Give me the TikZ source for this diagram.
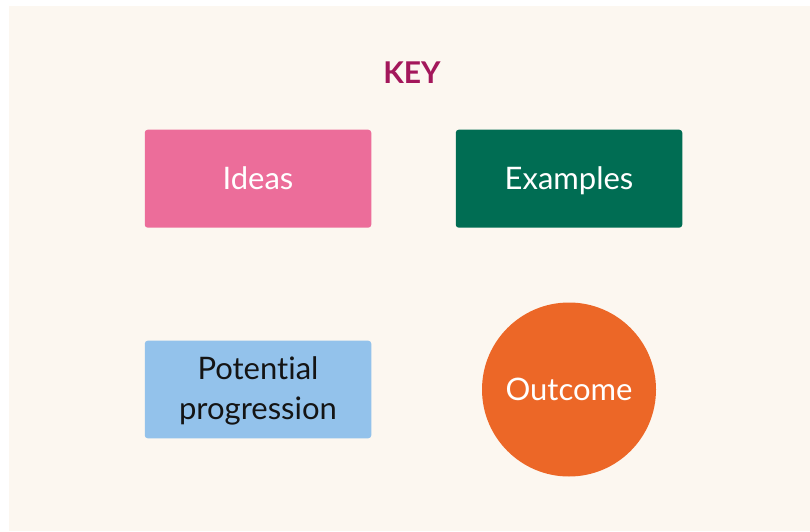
\documentclass[tikz,border=0pt]{standalone}
\usepackage{fontspec}
\setmainfont[Ligatures=NoCommon]{Lato}
\definecolor{bgc}{HTML}{FCF7F0}
\definecolor{pinkc}{HTML}{EC6D9A}
\definecolor{greenc}{HTML}{006D53}
\definecolor{bluec}{HTML}{93C2EB}
\definecolor{orangec}{HTML}{EC6727}
\definecolor{keyc}{HTML}{A3175B}
\definecolor{darktext}{HTML}{141414}
\tikzset{
  keyfont/.style={font=\fontsize{31}{40}\selectfont},
  keybox/.style={rectangle, rounded corners=3pt, minimum width=226.5pt, minimum height=98pt, inner sep=0pt, align=center, keyfont},
  oneline/.style={text height=22pt, text depth=1pt},
  keycirc/.style={circle, minimum size=174pt, inner sep=0pt, keyfont},
}
\begin{document}
\begin{tikzpicture}[x=1pt,y=1pt]
\useasboundingbox (0,0) rectangle (810,531);
\fill[white] (0,0) rectangle (810,531);
\fill[bgc] (9,0) rectangle (810,525);
\node[text=keyc, font=\bfseries\fontsize{30}{34}\selectfont] (key) at (412,458.5) {KEY};
\node[keybox, oneline, fill=pinkc, text=white] (ideas) at (258,352.3) {Ideas};
\node[keybox, oneline, fill=greenc, text=white] (examples) at (569,352.3) {Examples};
\node[keybox, fill=bluec, minimum height=97.6pt] (prog) at (258,141.5) {};
\node[text=darktext, align=center, keyfont, inner sep=0pt] (progtext) at ([yshift=-1.5pt]prog.center) {Potential\\progression};
\node[keycirc, oneline, fill=orangec, text=white] (outcome) at (569,141.5) {Outcome};
\end{tikzpicture}
\end{document}
